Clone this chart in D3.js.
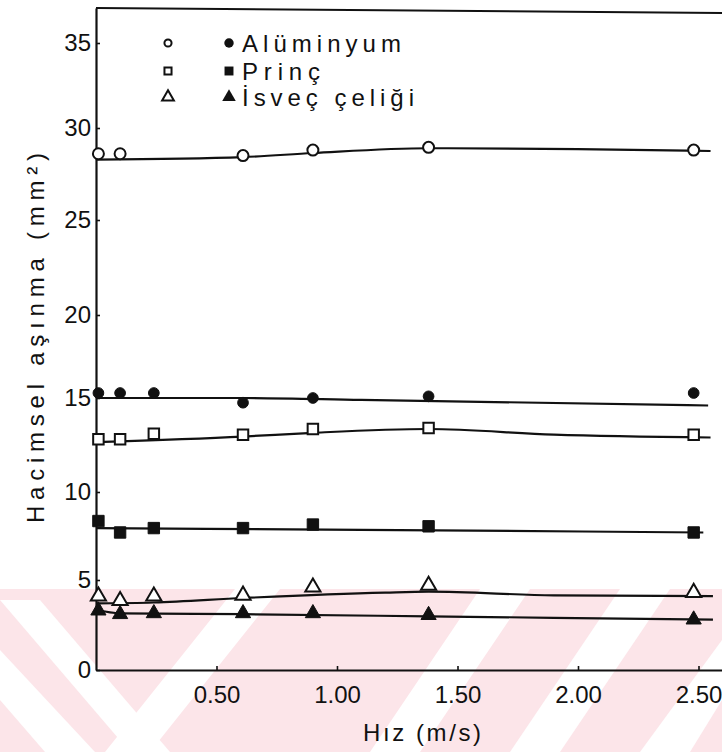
<!DOCTYPE html>
<html>
<head>
<meta charset="utf-8">
<script src="https://cdn.jsdelivr.net/npm/d3@7"></script>
<style>
  html, body { margin: 0; padding: 0; background: #fff; }
  svg { display: block; }
  text { font-family: "Liberation Sans", Arial, sans-serif; fill: #111; }
</style>
</head>
<body>
<svg id="chart" width="722" height="752"></svg>
<script>
// ---- data ----
const speeds = [0.01, 0.10, 0.24, 0.61, 0.90, 1.38, 2.48];           // Hız (m/s)
const aluminyumOpen   = [28.6, 28.6, null, 28.5, 28.8, 28.95, 28.8];
const aluminyumFilled = [15.3, 15.3, 15.3, 14.75, 15.0, 15.1, 15.3];
const princOpen       = [12.8, 12.8, 13.1, 13.05, 13.35, 13.4, 13.05];
const princFilled     = [8.35, 7.7, 7.95, 7.95, 8.15, 8.05, 7.7];
const celikOpen       = [4.1, 3.85, 4.1, 4.15, 4.6, 4.7, 4.3];
const celikFilled     = [3.3, 3.1, 3.15, 3.15, 3.15, 3.05, 2.8];

// hand-drawn fitted curves: [speed, value]
const fitAluminyumOpen   = [[0, 28.28], [0.61, 28.42], [0.9, 28.64], [1.38, 28.9], [2.0, 28.85], [2.55, 28.75]];
const fitAluminyumFilled = [[0, 15.0], [0.61, 15.0], [1.1, 14.9], [2.54, 14.6]];
const fitPrincOpen       = [[0, 12.65], [0.61, 12.95], [0.9, 13.15], [1.38, 13.35], [1.9, 13.05], [2.55, 12.9]];
const fitPrincFilled     = [[0, 7.95], [1.1, 7.85], [2.52, 7.7]];
const fitCelikOpen       = [[0, 3.7], [0.24, 3.75], [0.61, 4.0], [1.2, 4.3], [1.38, 4.35], [1.9, 4.15], [2.56, 4.1]];
const fitCelikFilled     = [[0, 3.35], [0.1, 3.15], [0.61, 3.1], [1.38, 2.98], [2.56, 2.8]];

const xTicks = [0.5, 1.0, 1.5, 2.0, 2.5];
const xTickLabels = ["0.50", "1.00", "1.50", "2.00", "2.50"];
const yTicks = [0, 5, 10, 15, 20, 25, 30, 35];
const yTickLabels = ["0", "5", "10", "15", "20", "25", "30", "35"];
const legendLabels = ["Alüminyum", "Prinç", "İsveç çeliği"];
const xTitle = "Hız (m/s)";
const yTitle = "Hacimsel aşınma (mm²)";

// ---- drawing ----
const svg = d3.select("#chart");

// watermark (decorative background)
const wm = svg.append("g").attr("class", "watermark");
const pink = "#fce5e9";
wm.append("rect").attr("x", 0).attr("y", 589).attr("width", 722).attr("height", 163).attr("fill", pink);
const white = "#ffffff";
const whiteBands = [
  [[0, 600], [40, 600], [170, 752], [130, 752]],
  [[0, 700], [0, 650], [95, 752], [45, 752]],
  [[235, 589], [280, 589], [150, 752], [105, 752]],
  [[480, 589], [530, 589], [420, 752], [370, 752]],
  [[620, 589], [670, 589], [560, 752], [510, 752]],
  [[722, 640], [722, 700], [690, 752], [640, 752]]
];
whiteBands.forEach(p => wm.append("polygon").attr("points", p.map(d => d.join(",")).join(" ")).attr("fill", white));

const x = d3.scaleLinear().domain([0, 2.6]).range([96, 722.6]);
const y = d3.scaleLinear()
  .domain([0, 5, 10, 15, 20, 25, 30, 35, 37.06])
  .range([670, 580, 492, 398, 315, 220, 128, 43, 8]);

// top frame line
svg.append("line").attr("x1", 96).attr("y1", 8).attr("x2", 722).attr("y2", 13)
  .attr("stroke", "#111").attr("stroke-width", 2);

// axes
const yAxis = d3.axisLeft(y).tickValues(yTicks)
  .tickFormat((d, i) => yTickLabels[i]).tickSizeInner(-4).tickSizeOuter(0).tickPadding(5);
const gy = svg.append("g").attr("transform", "translate(96,0)").call(yAxis);
const xAxis = d3.axisBottom(x).tickValues(xTicks)
  .tickFormat((d, i) => xTickLabels[i]).tickSizeInner(-4).tickSizeOuter(0).tickPadding(16);
const gx = svg.append("g").attr("transform", "translate(0,670)").call(xAxis);
[gx, gy].forEach(g => {
  g.select(".domain").attr("stroke", "#111").attr("stroke-width", 2.2);
  g.selectAll(".tick line").attr("stroke", "#111").attr("stroke-width", 1.6);
  g.selectAll(".tick text").attr("font-size", 24).attr("font-family", "Liberation Sans, sans-serif").attr("fill", "#111");
});

// axis titles
svg.append("text").attr("x", 422).attr("y", 733).attr("dy", "0.35em")
  .attr("text-anchor", "middle").attr("font-size", 24)
  .attr("textLength", 118).attr("lengthAdjust", "spacing").text(xTitle);
svg.append("text").attr("transform", "translate(36,338) rotate(-90)").attr("dy", "0.35em")
  .attr("text-anchor", "middle").attr("font-size", 24)
  .attr("textLength", 370).attr("lengthAdjust", "spacing").text(yTitle);

// fitted curves
const line = d3.line().x(d => x(d[0])).y(d => y(d[1])).curve(d3.curveMonotoneX);
[fitAluminyumOpen, fitAluminyumFilled, fitPrincOpen, fitPrincFilled, fitCelikOpen, fitCelikFilled]
  .forEach(f => svg.append("path").attr("d", line(f)).attr("fill", "none")
    .attr("stroke", "#111").attr("stroke-width", 2.2));

// markers
const series = [
  { vals: aluminyumOpen, shape: d3.symbolCircle, size: 95, filled: false },
  { vals: aluminyumFilled, shape: d3.symbolCircle, size: 90, filled: true },
  { vals: princOpen, shape: d3.symbolSquare, size: 110, filled: false },
  { vals: princFilled, shape: d3.symbolSquare, size: 130, filled: true },
  { vals: celikOpen, shape: d3.symbolTriangle, size: 100, filled: false },
  { vals: celikFilled, shape: d3.symbolTriangle, size: 100, filled: true }
];
series.forEach(s => {
  const sym = d3.symbol().type(s.shape).size(s.size);
  svg.append("g").selectAll("path")
    .data(speeds.map((sp, i) => [sp, s.vals[i]]).filter(d => d[1] != null))
    .join("path")
    .attr("transform", d => `translate(${x(d[0])},${y(d[1])})`)
    .attr("d", sym())
    .attr("fill", s.filled ? "#111" : "#fff")
    .attr("stroke", "#111").attr("stroke-width", s.filled ? 1 : 2);
});

// legend
const legendRows = [
  { open: d3.symbolCircle, filled: d3.symbolCircle, y: 43, label: legendLabels[0], len: 159, so: 40, sf: 70 },
  { open: d3.symbolSquare, filled: d3.symbolSquare, y: 71, label: legendLabels[1], len: 78, so: 50, sf: 80 },
  { open: d3.symbolTriangle, filled: d3.symbolTriangle, y: 97, label: legendLabels[2], len: 172, so: 60, sf: 80 }
];
const lg = svg.append("g");
legendRows.forEach(r => {
  lg.append("path").attr("transform", `translate(168,${r.y})`)
    .attr("d", d3.symbol().type(r.open).size(r.so)()).attr("fill", "#fff").attr("stroke", "#111").attr("stroke-width", 2);
  lg.append("path").attr("transform", `translate(229,${r.y})`)
    .attr("d", d3.symbol().type(r.filled).size(r.sf)()).attr("fill", "#111");
  lg.append("text").attr("x", 242).attr("y", r.y).attr("dy", "0.36em").attr("font-size", 24)
    .attr("textLength", r.len).attr("lengthAdjust", "spacing").text(r.label);
});
</script>
</body>
</html>
